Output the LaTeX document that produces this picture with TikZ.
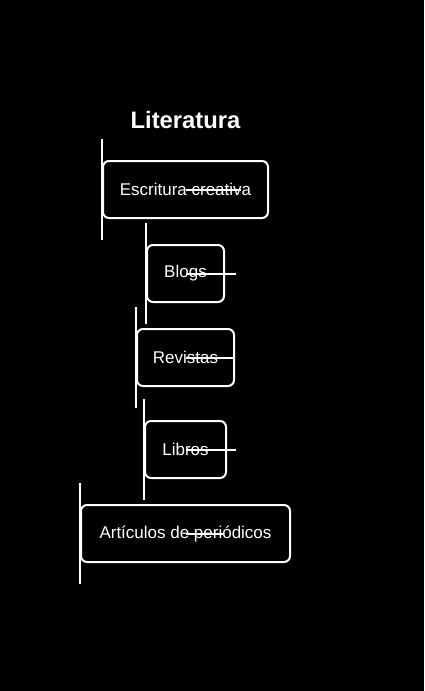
\documentclass[tikz,border=0pt]{standalone}
\usepackage{fontspec}
\setmainfont{Liberation Sans}
\usetikzlibrary{calc}

\begin{document}
\begin{tikzpicture}[
    x=1pt, y=-1pt,
    topic/.style={draw=white, line width=2pt, rounded corners=6pt, minimum height=57pt,
        minimum width=#1, inner xsep=0pt, text=white, font=\fontsize{17}{20}\selectfont},
    stem/.style={draw=white, line width=2pt},
    title/.style={text=white, font=\fontsize{23.8}{28}\selectfont\bfseries}
]
\fill[black] (0,0) rectangle (424,691);

\node[title] (lit) at (185.5,120) {Literatura};

\node[topic=165pt] (esc) at (185.5,189.5) {Escritura creativa};
\node[topic=77pt]  (blo) at (185.5,273.5) {Blogs};
\node[topic=97pt]  (rev) at (185.5,357.5) {Revistas};
\node[topic=81pt]  (lib) at (185.5,449.5) {Libros};
\node[topic=209pt] (art) at (185.5,533.5) {Artículos de periódicos};

% vertical stems on the left side
\foreach \n in {esc, blo, rev, lib, art}
    \draw[stem] ($(\n.north west)+(0,-21)$) -- ($(\n.south west)+(0,21)$);

% stroke through the labels
\draw[stem] (esc.center) -- ++(55,0);
\draw[stem] (blo.center) -- ++(50,0);
\draw[stem] (rev.center) -- ++(49,0);
\draw[stem] (lib.center) -- ++(50,0);
\draw[stem] (art.center) -- ++(37,0);
\end{tikzpicture}
\end{document}
